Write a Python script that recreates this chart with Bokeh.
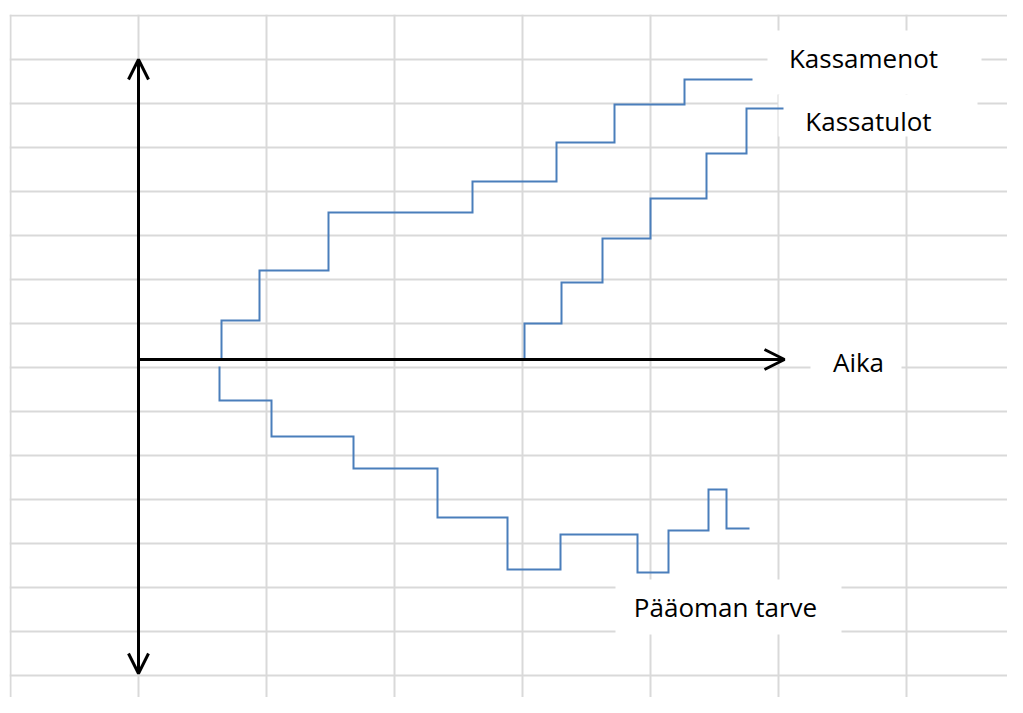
from bokeh.plotting import figure
from bokeh.models import Range1d, FixedTicker, Arrow, OpenHead, Label, BoxAnnotation, Grid
from bokeh.embed import file_html
from bokeh.resources import INLINE

# ---- data (time on x, cash amount on y; origin at the axes' crossing) ----
menot_t = [83, 121, 190, 334, 418, 476, 546, 614]
menot_v = [0, 39, 89, 147, 178, 217, 255, 280]
tulot_t = [386, 423, 464, 512, 568, 608, 645]
tulot_v = [0, 36, 77, 121, 161, 206, 251]
tarve_t = [81, 133, 215, 299, 369, 422, 499, 530, 570, 588, 611]
tarve_v = [-7, -41, -77, -109, -158, -210, -175, -213, -171, -130, -169]

grid_cols = [-128, 0, 128, 256, 384, 512, 640, 768]
grid_rows = [344 - 44 * k for k in range(16)]

labels = ["Kassamenot", "Kassatulot", "Aika", "Pääoman tarve"]
label_x = [725, 730, 720, 587]
label_y = [302, 239, -2, -247]
box_left = [629, 640, 672, 477]
box_right = [843, 839, 763, 703]
box_top = [329, 265, 19, -220]
box_bottom = [265, 223, -31, -275]

BLUE = "#4a7ebb"


def steps(t, v):
    xs, ys = [t[0]], [v[0]]
    for k in range(1, len(t)):
        xs += [t[k - 1], t[k]]
        ys += [v[k], v[k]]
    return xs, ys


p = figure(width=1007, height=697, output_backend="svg", toolbar_location=None,
           x_range=Range1d(-129, 869), y_range=Range1d(-338, 345),
           x_axis_type=None, y_axis_type=None,
           min_border_left=9, min_border_top=14, min_border_right=0, min_border_bottom=0)
p.outline_line_color = None
p.background_fill_color = "white"
p.border_fill_color = "white"

p.add_layout(Grid(dimension=0, ticker=FixedTicker(ticks=grid_cols),
                  grid_line_color="#d9d9d9", grid_line_width=2))
p.add_layout(Grid(dimension=1, ticker=FixedTicker(ticks=grid_rows),
                  grid_line_color="#d9d9d9", grid_line_width=2))

# white label boxes over the sheet grid
for l, r, t, b in zip(box_left, box_right, box_top, box_bottom):
    p.add_layout(BoxAnnotation(left=l, right=r, top=t, bottom=b, fill_color="white",
                               fill_alpha=1, line_alpha=0, level="underlay"))

for t, v in ((menot_t, menot_v), (tulot_t, tulot_v), (tarve_t, tarve_v)):
    xs, ys = steps(t, v)
    p.line(xs, ys, line_color=BLUE, line_width=2, line_join="miter")

# axes drawn as arrows
p.add_layout(Arrow(x_start=0, y_start=-314, x_end=0, y_end=300,
                   start=OpenHead(size=20, line_width=3, line_color="black"),
                   end=OpenHead(size=20, line_width=3, line_color="black"),
                   line_width=3, line_color="black"))
p.add_layout(Arrow(x_start=0, y_start=0, x_end=646, y_end=0,
                   end=OpenHead(size=20, line_width=3, line_color="black"),
                   line_width=3, line_color="black"))

for txt, x, y in zip(labels, label_x, label_y):
    p.add_layout(Label(x=x, y=y, text=txt, text_align="center", text_baseline="alphabetic",
                       text_font="Open Sans", text_font_size="26px", text_color="black"))

open("out.html", "w").write(file_html(p, INLINE))
